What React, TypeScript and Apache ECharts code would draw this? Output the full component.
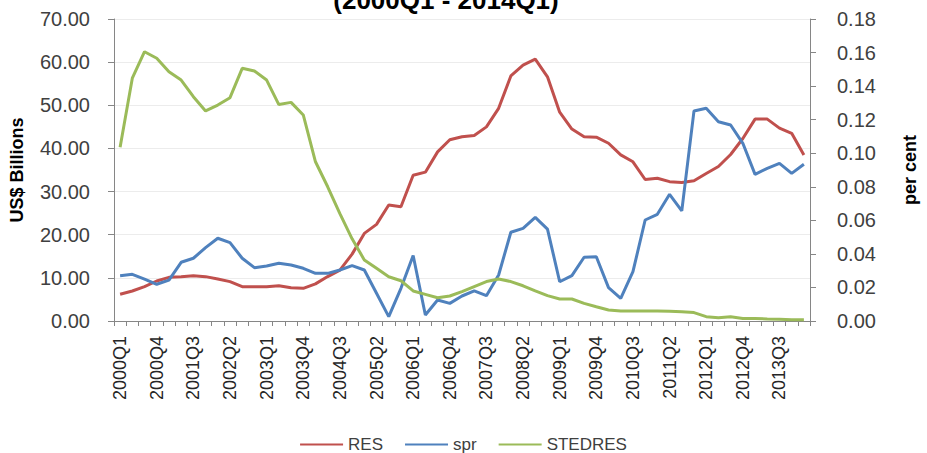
import React, { useEffect, useRef } from "react";
import * as echarts from "echarts";

const categories = [
  "2000Q1", "2000Q2", "2000Q3", "2000Q4", "2001Q1", "2001Q2", "2001Q3", "2001Q4",
  "2002Q1", "2002Q2", "2002Q3", "2002Q4", "2003Q1", "2003Q2", "2003Q3", "2003Q4",
  "2004Q1", "2004Q2", "2004Q3", "2004Q4", "2005Q1", "2005Q2", "2005Q3", "2005Q4",
  "2006Q1", "2006Q2", "2006Q3", "2006Q4", "2007Q1", "2007Q2", "2007Q3", "2007Q4",
  "2008Q1", "2008Q2", "2008Q3", "2008Q4", "2009Q1", "2009Q2", "2009Q3", "2009Q4",
  "2010Q1", "2010Q2", "2010Q3", "2010Q4", "2011Q1", "2011Q2", "2011Q3", "2011Q4",
  "2012Q1", "2012Q2", "2012Q3", "2012Q4", "2013Q1", "2013Q2", "2013Q3", "2013Q4",
  "2014Q1",
];

const res = [
  6.19, 6.95, 7.96, 9.27, 10.12, 10.28, 10.51, 10.28, 9.74, 9.12, 7.96, 7.96, 7.96, 8.19,
  7.7, 7.57, 8.6, 10.3, 11.8, 15.5, 20.3, 22.4, 26.9, 26.5, 33.8, 34.5, 39.2, 42.0,
  42.7, 43.0, 45.0, 49.3, 56.8, 59.3, 60.7, 56.6, 48.4, 44.5, 42.7, 42.6, 41.2, 38.5,
  36.9, 32.8, 33.1, 32.3, 32.1, 32.5, 34.2, 35.8, 38.6, 42.3, 46.8, 46.8, 44.7, 43.5,
  38.5,
];

const spr = [
  0.027, 0.0278, 0.025, 0.0219, 0.0244, 0.035, 0.0374, 0.0437, 0.0493, 0.0467, 0.0374,
  0.0318, 0.0328, 0.0344, 0.0334, 0.0314, 0.0284, 0.0284, 0.0304, 0.033, 0.0304, 0.0165,
  0.0026, 0.0195, 0.039, 0.0036, 0.0125, 0.0105, 0.0149, 0.0179, 0.0151, 0.0274, 0.0529,
  0.0552, 0.0618, 0.0548, 0.0234, 0.027, 0.038, 0.0383, 0.0199, 0.0135, 0.0294, 0.0602,
  0.0636, 0.0755, 0.0656, 0.1252, 0.1268, 0.1188, 0.1168, 0.1059, 0.0874, 0.091, 0.094,
  0.088, 0.0934,
];

const stedres = [
  0.1035, 0.1447, 0.1605, 0.1566, 0.1486, 0.1436, 0.1337, 0.1252, 0.1287, 0.1331, 0.1506,
  0.149, 0.1436, 0.129, 0.1303, 0.1228, 0.0949, 0.08, 0.064, 0.049, 0.0364, 0.0314, 0.0264,
  0.024, 0.0179, 0.0159, 0.0139, 0.0149, 0.0175, 0.0205, 0.0235, 0.025, 0.0235, 0.021,
  0.0179, 0.0151, 0.0131, 0.0131, 0.0105, 0.0085, 0.0066, 0.006, 0.006, 0.006, 0.006,
  0.0058, 0.0055, 0.005, 0.0026, 0.002, 0.0025, 0.0015, 0.0015, 0.0012, 0.001, 0.0008,
  0.0008,
];

const leftTicks = { min: 0, max: 70, interval: 10 };
const rightTicks = { min: 0, max: 0.18, interval: 0.02 };

const titleText = "(2000Q1 - 2014Q1)";
const leftName = "US$ Billions";
const rightName = "per cent";

export default function App() {
  const ref = useRef<HTMLDivElement>(null);
  useEffect(() => {
    const chart = echarts.init(ref.current as HTMLDivElement, null, { renderer: "svg" });
    const axisColor = "#868686";
    const labelColor = "#404040";
    chart.setOption({
      animation: false,
      backgroundColor: "#ffffff",
      textStyle: { fontFamily: "Liberation Sans" },
      graphic: [
        {
          type: "text",
          x: 446,
          y: 13,
          style: {
            text: titleText,
            fontFamily: "Liberation Sans",
            fontWeight: "bold",
            fontSize: 26,
            fill: "#000000",
            align: "center",
            verticalAlign: "bottom",
          },
        },
      ],
      grid: { left: 113, right: 100, top: 19, bottom: 132, containLabel: false },
      legend: {
        top: 431,
        left: "center",
        icon: "rect",
        itemWidth: 43,
        itemHeight: 2,
        itemGap: 22,
        textStyle: { fontSize: 17, color: labelColor, fontFamily: "Liberation Sans" },
        data: ["RES", "spr", "STEDRES"],
      },
      xAxis: {
        type: "category",
        data: categories,
        boundaryGap: true,
        axisLine: { lineStyle: { color: axisColor, width: 1 } },
        axisTick: { show: true, interval: 0, length: 5, lineStyle: { color: axisColor } },
        axisLabel: {
          interval: 2,
          rotate: 90,
          fontSize: 18,
          color: "#262626",
          margin: 15,
        },
        splitLine: { show: false },
      },
      yAxis: [
        {
          type: "value",
          position: "left",
          ...leftTicks,
          name: leftName,
          nameLocation: "middle",
          nameRotate: 90,
          nameGap: 88,
          nameTextStyle: { fontWeight: "bold", fontSize: 18, color: "#000000" },
          axisLine: { show: true, lineStyle: { color: axisColor } },
          axisTick: { show: true, length: 6, lineStyle: { color: axisColor } },
          axisLabel: {
            formatter: (v: number) => v.toFixed(2),
            fontSize: 20,
            margin: 24,
            color: labelColor,
          },
          splitLine: { show: true, lineStyle: { color: "#ececec", width: 1 } },
        },
        {
          type: "value",
          position: "right",
          ...rightTicks,
          name: rightName,
          nameLocation: "middle",
          nameRotate: 90,
          nameGap: 91,
          nameTextStyle: { fontWeight: "bold", fontSize: 18, color: "#000000" },
          axisLine: { show: true, lineStyle: { color: axisColor } },
          axisTick: { show: true, length: 6, lineStyle: { color: axisColor } },
          axisLabel: {
            formatter: (v: number) => v.toFixed(2),
            fontSize: 20,
            margin: 27,
            color: labelColor,
          },
          splitLine: { show: false },
        },
      ],
      series: [
        {
          name: "RES",
          type: "line",
          yAxisIndex: 0,
          data: res,
          showSymbol: false,
          symbol: "none",
          itemStyle: { color: "#C0504D" },
          lineStyle: { color: "#C0504D", width: 3 },
        },
        {
          name: "spr",
          type: "line",
          yAxisIndex: 1,
          data: spr,
          showSymbol: false,
          symbol: "none",
          itemStyle: { color: "#4F81BD" },
          lineStyle: { color: "#4F81BD", width: 3 },
        },
        {
          name: "STEDRES",
          type: "line",
          yAxisIndex: 1,
          data: stedres,
          showSymbol: false,
          symbol: "none",
          itemStyle: { color: "#9BBB59" },
          lineStyle: { color: "#9BBB59", width: 3 },
        },
      ],
    });
    return () => chart.dispose();
  }, []);
  return (
    <div
      ref={ref}
      style={{ position: "fixed", left: 0, top: 0, width: 927, height: 453, background: "#ffffff" }}
    />
  );
}
